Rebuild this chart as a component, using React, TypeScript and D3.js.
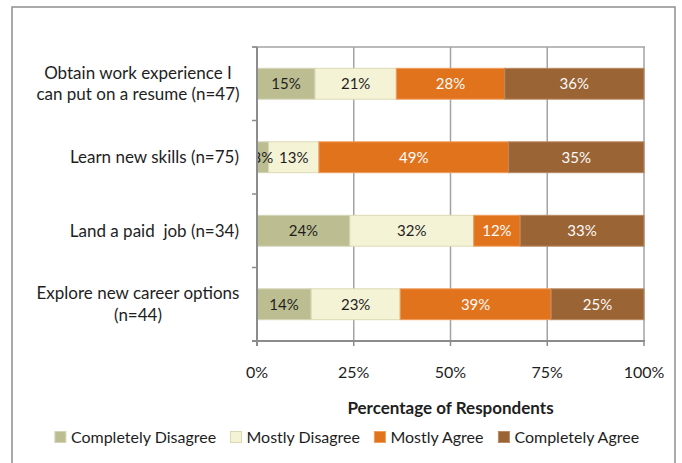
import React from "react";
import * as d3 from "d3";

const categories: string[][] = [
  ["Obtain work experience I", "can put on a resume (n=47)"],
  ["Learn new skills (n=75)"],
  ["Land a paid  job (n=34)"],
  ["Explore new career options", "(n=44)"],
];
const seriesNames = ["Completely Disagree", "Mostly Disagree", "Mostly Agree", "Completely Agree"];
const completelyDisagree = [15, 3, 24, 14];
const mostlyDisagree = [21, 13, 32, 23];
const mostlyAgree = [28, 49, 12, 39];
const completelyAgree = [36, 35, 33, 25];
const xTicks = [0, 25, 50, 75, 100];
const xTickLabels = ["0%", "25%", "50%", "75%", "100%"];
const axisTitle = "Percentage of Respondents";

const colors = ["#bcbe92", "#f5f3d6", "#e0731c", "#9b6434"];
const strokes = ["#d4d5b8", "#dcd8b4", "#ef9c5c", "#b98a62"];
const labelColors = ["#1e1e1e", "#1e1e1e", "#fbfbfb", "#fbfbfb"];

const FONT = "Lato, 'Open Sans', sans-serif";

function measure(text: string, size: number, weight = "normal") {
  const c = document.createElement("canvas").getContext("2d");
  if (!c) return text.length * size * 0.5;
  c.font = `${weight} ${size}px Lato`;
  return c.measureText(text).width;
}

export default function App() {
  const W = 682;
  const H = 463;
  const left = 257;
  const right = 644;
  const top = 47;
  const bottom = 341;

  const rows = categories.map((c, i) => ({
    idx: String(i),
    [seriesNames[0]]: completelyDisagree[i],
    [seriesNames[1]]: mostlyDisagree[i],
    [seriesNames[2]]: mostlyAgree[i],
    [seriesNames[3]]: completelyAgree[i],
  }));
  const stacked = d3.stack<any>().keys(seriesNames)(rows as any);

  const x = d3.scaleLinear().domain([0, 100]).range([left, right]);
  const y = d3
    .scaleBand<string>()
    .domain(categories.map((_, i) => String(i)))
    .range([top, bottom])
    .paddingInner(0.58)
    .paddingOuter(0.29);

  const gridColor = "#a3a3a3";
  const axisColor = "#8c8c8c";

  // legend layout
  const legSize = 16;
  const sq = 11;
  const widths = seriesNames.map((s) => measure(s, legSize));
  const itemGap = 14;
  const sqGap = 5;
  const total = widths.reduce((a, w) => a + sq + sqGap + w, 0) + itemGap * (seriesNames.length - 1);
  let lx = 347.5 - total / 2;
  const legendItems = seriesNames.map((s, i) => {
    const item = { s, i, x: lx };
    lx += sq + sqGap + widths[i] + itemGap;
    return item;
  });
  const legY = 437;

  const clampX = (v: number) => x(Math.min(100, v));

  return (
    <svg
      width={W}
      height={H}
      style={{ position: "absolute", left: 0, top: 0, display: "block", background: "#fff" }}
      fontFamily={FONT}
    >
      <defs>
        <clipPath id="plotClip">
          <rect x={left + 1} y={top} width={right - left + 2} height={bottom - top} />
        </clipPath>
      </defs>
      <rect x={12} y={7} width={663} height={480} fill="#fff" stroke="#8f8f8f" strokeWidth={1.5} />

      {/* gridlines */}
      {xTicks.slice(1).map((t) => (
        <line key={t} x1={x(t)} x2={x(t)} y1={top} y2={bottom} stroke={gridColor} strokeWidth={1.5} />
      ))}
      <line x1={left - 5} x2={right + 1} y1={top} y2={top} stroke={gridColor} strokeWidth={1.5} />

      {/* bars */}
      {stacked.map((layer, si) => (
        <g key={si}>
          {layer.map((d: any, ci: number) => {
            const x0 = clampX(d[0]);
            const x1 = clampX(d[1]);
            return (
              <rect
                key={ci}
                x={x0}
                y={y(String(ci))!}
                width={Math.max(0, x1 - x0)}
                height={y.bandwidth()}
                fill={colors[si]}
                stroke={strokes[si]}
                strokeWidth={1}
              />
            );
          })}
        </g>
      ))}

      {/* bar labels */}
      <g clipPath="url(#plotClip)">
        {stacked.map((layer, si) =>
          layer.map((d: any, ci: number) => {
            const x0 = clampX(d[0]);
            const x1 = clampX(d[1]);
            return (
              <text
                key={`${si}-${ci}`}
                x={(x0 + x1) / 2}
                y={y(String(ci))! + y.bandwidth() / 2}
                dy="0.35em"
                textAnchor="middle"
                fontSize={15}
                fill={labelColors[si]}
              >
                {`${d[1] - d[0]}%`}
              </text>
            );
          })
        )}
      </g>

      {/* axes */}
      <line x1={left} x2={left} y1={top} y2={bottom + 5} stroke={axisColor} strokeWidth={2} />
      <line x1={left - 5} x2={right + 1} y1={bottom} y2={bottom} stroke={axisColor} strokeWidth={2} />
      {y.domain().map((d, i) => (
        <line
          key={d}
          x1={left - 5}
          x2={left}
          y1={top + i * y.step()}
          y2={top + i * y.step()}
          stroke={axisColor}
          strokeWidth={1.5}
        />
      ))}
      {xTicks.map((t, i) => (
        <g key={t}>
          <line x1={x(t)} x2={x(t)} y1={bottom} y2={bottom + 5} stroke={axisColor} strokeWidth={1.5} />
          <text x={x(t)} y={372} dy="0.35em" textAnchor="middle" fontSize={16} fill="#1e1e1e">
            {xTickLabels[i]}
          </text>
        </g>
      ))}
      <text
        x={(left + right) / 2}
        y={408}
        dy="0.35em"
        textAnchor="middle"
        fontSize={17}
        fontWeight="bold"
        fill="#1e1e1e"
      >
        {axisTitle}
      </text>

      {/* category labels */}
      {categories.map((lines, i) => {
        const cy = y(String(i))! + y.bandwidth() / 2;
        const lh = 21.5;
        const multi = lines.length > 1;
        return (
          <g key={i}>
            {lines.map((ln, j) => (
              <text
                key={j}
                x={multi ? 138 : 239}
                y={cy + (j - (lines.length - 1) / 2) * lh}
                dy="0.35em"
                textAnchor={multi ? "middle" : "end"}
                fontSize={17}
                fill="#1e1e1e"
                style={{ whiteSpace: "pre" }}
              >
                {ln}
              </text>
            ))}
          </g>
        );
      })}

      {/* legend */}
      {legendItems.map((it) => (
        <g key={it.s}>
          <rect
            x={it.x}
            y={legY - sq / 2}
            width={sq}
            height={sq}
            fill={colors[it.i]}
            stroke={strokes[it.i]}
            strokeWidth={1}
          />
          <text x={it.x + sq + sqGap} y={legY} dy="0.35em" fontSize={legSize} fill="#1e1e1e">
            {it.s}
          </text>
        </g>
      ))}
    </svg>
  );
}
